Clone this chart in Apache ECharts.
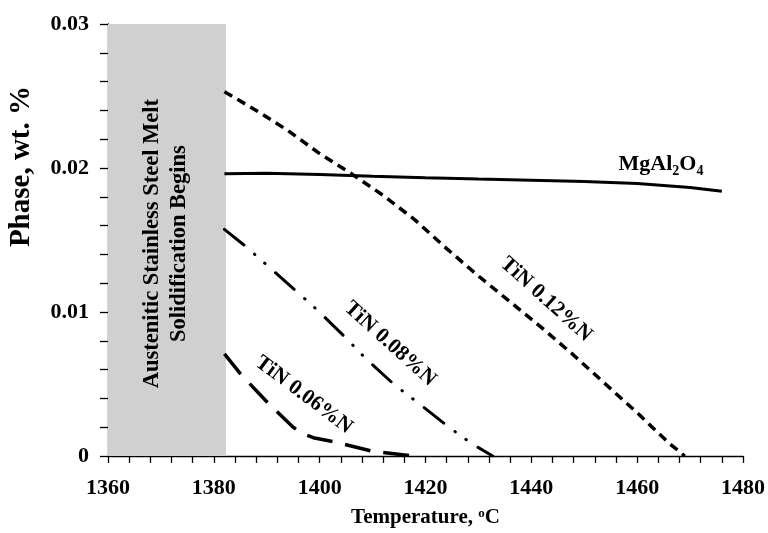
<!DOCTYPE html>
<html>
<head>
<meta charset="utf-8">
<script src="https://cdn.jsdelivr.net/npm/echarts@6/dist/echarts.min.js"></script>
<style>html,body{margin:0;padding:0;background:#fff;}#c{width:768px;height:533px;}</style>
</head>
<body>
<div id="c"></div>
<script>
// ---- data ----
const xTicks = [1360, 1380, 1400, 1420, 1440, 1460, 1480];
const yTicks = [0, 0.01, 0.02, 0.03];
const shadeRange = [1360, 1382.3];

const mgT = [1382, 1390, 1400, 1410, 1420, 1430, 1440, 1450, 1460, 1470, 1476];
const mgV = [0.01960, 0.01963, 0.01955, 0.01943, 0.01932, 0.01923, 0.01915, 0.01907, 0.01893, 0.01865, 0.01839];

const tin12T = [1382, 1388, 1394, 1400, 1406, 1412, 1418, 1424, 1430, 1436, 1442, 1448, 1454, 1460, 1466, 1469];
const tin12V = [0.0253, 0.0240, 0.0226, 0.0210, 0.0196, 0.0181, 0.0164, 0.0144, 0.0125, 0.0107, 0.0089, 0.0070, 0.0050, 0.0030, 0.0009, 0];

const tin08T = [1382, 1386, 1390, 1395.7, 1399.6, 1405, 1408.7, 1414.2, 1418.6, 1424.5, 1428.8, 1432.7];
const tin08V = [0.01574, 0.01456, 0.01326, 0.01141, 0.01012, 0.00818, 0.00677, 0.00492, 0.00369, 0.00198, 0.00084, 0];

const tin06T = [1382, 1385.1, 1390.4, 1395.0, 1396.8, 1398.8, 1402.6, 1410.1, 1417.3, 1418];
const tin06V = [0.00709, 0.00567, 0.00362, 0.00200, 0.00155, 0.00127, 0.00100, 0.00032, 0.00002, 0];

const zip = (a, b) => a.map((v, i) => [v, b[i]]);
const FONT = 'Liberation Serif';

const chart = echarts.init(document.getElementById('c'), null, {renderer: 'canvas'});

const lineBase = {type: 'line', symbol: 'none', smooth: false, silent: true};

chart.setOption({
  animation: false,
  backgroundColor: '#ffffff',
  grid: {left: 108, right: 21, top: 24, bottom: 70, containLabel: false},
  xAxis: {
    type: 'value', min: xTicks[0], max: xTicks[xTicks.length - 1], interval: 20,
    axisLine: {show: true, onZero: false, lineStyle: {color: '#000', width: 1.3}},
    axisTick: {show: true, inside: false, length: 7, lineStyle: {color: '#000', width: 1.3}},
    minorTick: {show: true, splitNumber: 5, length: 7, lineStyle: {color: '#000', width: 1.3}},
    splitLine: {show: false},
    axisLabel: {color: '#000', fontFamily: FONT, fontWeight: 'bold', fontSize: 22, margin: 21,
      formatter: v => String(v)},
    name: 'Temperature, {sup|o}C',
    nameLocation: 'middle', nameGap: 51,
    nameTextStyle: {color: '#000', fontFamily: FONT, fontWeight: 'bold', fontSize: 21,
      rich: {sup: {fontFamily: FONT, fontWeight: 'bold', fontSize: 13, verticalAlign: 'top', padding: [0, 0, 8, 0], color: '#000'}}}
  },
  yAxis: {
    type: 'value', min: yTicks[0], max: yTicks[yTicks.length - 1], interval: 0.01,
    axisLine: {show: true, lineStyle: {color: '#000', width: 1.3}},
    axisTick: {show: true, inside: false, length: 8, lineStyle: {color: '#000', width: 1.3}},
    minorTick: {show: true, splitNumber: 5, length: 8, lineStyle: {color: '#000', width: 1.3}},
    splitLine: {show: false},
    axisLabel: {color: '#000', fontFamily: FONT, fontWeight: 'bold', fontSize: 22, margin: 19,
      formatter: v => String(+v.toFixed(4))}
  },
  series: [
    Object.assign({}, lineBase, {
      name: 'MgAl2O4', data: zip(mgT, mgV), z: 5,
      lineStyle: {color: '#000', width: 3},
      markArea: {silent: true, itemStyle: {color: '#d0d0d0'},
        data: [[{coord: [shadeRange[0], yTicks[0]]}, {coord: [shadeRange[1], yTicks[yTicks.length - 1]]}]]}
    }),
    Object.assign({}, lineBase, {
      name: 'TiN 0.12%N', data: zip(tin12T, tin12V), z: 5,
      lineStyle: {color: '#000', width: 3.5, type: [9, 6]}
    }),
    Object.assign({}, lineBase, {
      name: 'TiN 0.08%N', data: zip(tin08T, tin08V), z: 5,
      lineStyle: {color: '#000', width: 3, type: [25, 14, 0.5, 13, 0.5, 14], cap: 'round'}
    }),
    Object.assign({}, lineBase, {
      name: 'TiN 0.06%N', data: zip(tin06T, tin06V), z: 5,
      lineStyle: {color: '#000', width: 3.5, type: [26, 13]}
    })
  ]
});

// annotation positions given in data units, converted through the chart's scales
const px = (x, y) => chart.convertToPixel({gridIndex: 0}, [x, y]);
const txt = (pos, text, rot, size, extra) => ({
  type: 'text', x: pos[0], y: pos[1], rotation: rot * Math.PI / 180, z: 100,
  style: Object.assign({text: text, fill: '#000', font: 'bold ' + size + 'px "' + FONT + '"', align: 'center', verticalAlign: 'middle'}, extra || {})
});
const mgPos = px(1464.5, 0.02023);

chart.setOption({
  graphic: [
    // y-axis title (placed left of the axis, above centre as in the reference)
    txt([22, px(1360, 0.0201)[1]], 'Phase, wt. %', 90, 29),
    txt(px(1370.9, 0.01475), 'Austenitic Stainless Steel Melt\nSolidification Begins', 90, 22.5, {lineHeight: 27}),
    {
      type: 'text', x: mgPos[0], y: mgPos[1], z: 100,
      style: {
        text: '{n|MgAl}{s|2}{n|O}{s|4}', align: 'center', verticalAlign: 'middle',
        rich: {
          n: {fontFamily: FONT, fontWeight: 'bold', fontSize: 22, fill: '#000', verticalAlign: 'bottom'},
          s: {fontFamily: FONT, fontWeight: 'bold', fontSize: 14, fill: '#000', verticalAlign: 'bottom', padding: [0, 0, -3, 0]}
        }
      }
    },
    txt(px(1442.8, 0.01087), 'TiN 0.12%N', -42, 21.5),
    txt(px(1413.3, 0.00779), 'TiN 0.08%N', -42, 21.5),
    txt(px(1397.0, 0.00424), 'TiN 0.06%N', -37, 21.5)
  ]
});
</script>
</body>
</html>
